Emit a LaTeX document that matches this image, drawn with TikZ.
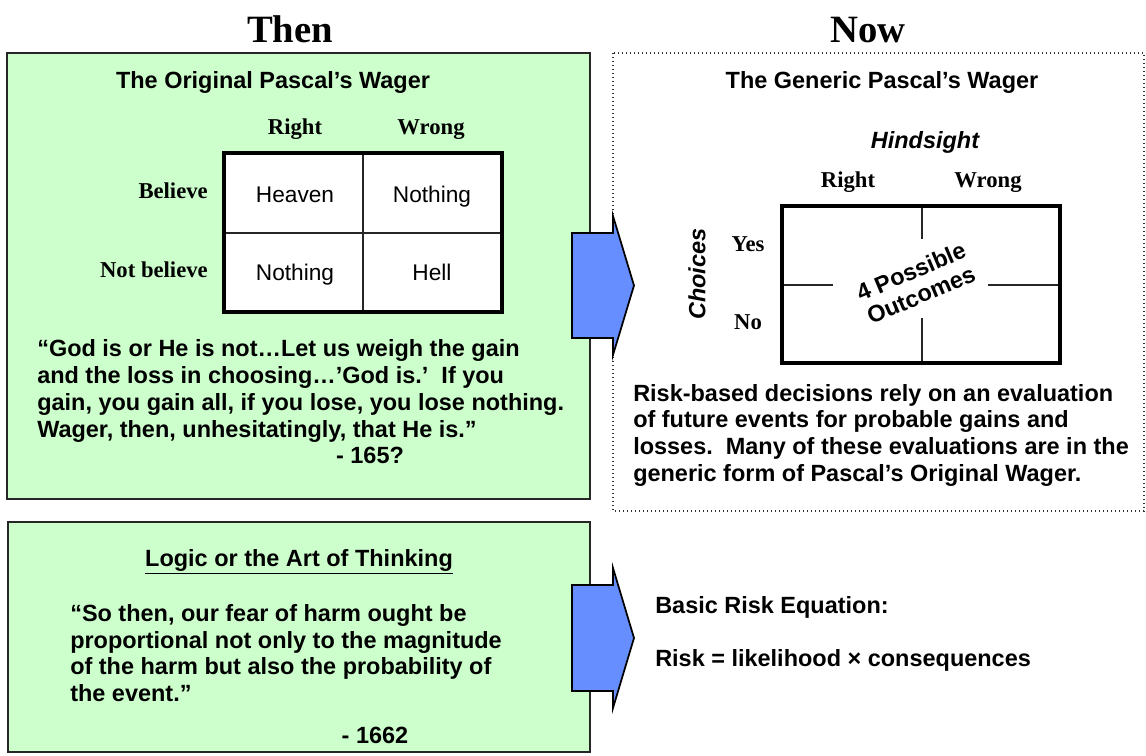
\documentclass[tikz,border=0pt]{standalone}
\usepackage{fontspec}
\setmainfont{Liberation Sans}
\newfontfamily\timesf{Liberation Serif}
\definecolor{pgreen}{RGB}{204,255,204}
\definecolor{pblue}{RGB}{102,142,255}
\begin{document}
\begin{tikzpicture}[x=0.75pt,y=-0.75pt,
  body/.style={font=\fontsize{17.6}{20}\selectfont\bfseries, inner sep=0, anchor=base west},
  ttl/.style={font=\fontsize{17.6}{20}\selectfont\bfseries, inner sep=0, anchor=base},
  serifl/.style={font=\timesf\fontsize{17}{20}\selectfont\bfseries, inner sep=0, anchor=base},
  cell/.style={font=\fontsize{17}{20}\selectfont, inner sep=0, anchor=base},
  bigttl/.style={font=\timesf\fontsize{29}{34}\selectfont\bfseries, inner sep=0, anchor=base},
  greenbox/.style={fill=pgreen, draw=black!85, line width=1pt},
  blockarrow/.style={fill=pblue, draw=black, line width=1.3pt, line join=miter},
  thickgrid/.style={draw=black, line width=3pt},
  thingrid/.style={draw=black!85, line width=1pt}]
\useasboundingbox (0,0) rectangle (1146,756);
\fill[white] (0,0) rectangle (1146,756);

% headings
\node[bigttl] (then) at (290,43) {Then};
\node[bigttl] (now) at (868,43) {Now};

% panels
\draw[greenbox] (7,53) rectangle (590,499);
\draw[greenbox] (8,522) rectangle (590,752);
\draw[black!80, line width=1pt, dotted] (613,53) rectangle (1144,511);

% arrows
\draw[blockarrow] (572,233) -- (613,233) -- (613,216) -- (634,285.5) -- (613,355) -- (613,338) -- (572,338) -- cycle;
\draw[blockarrow] (572,585) -- (613,585) -- (613,568) -- (634,638) -- (613,708) -- (613,691) -- (572,691) -- cycle;

% top-left panel
\node[ttl] (t1) at (273,89) {The Original Pascal’s Wager};
\node[serifl] (r1) at (295,135) {Right};
\node[serifl] (w1) at (431,135) {Wrong};
\node[serifl, anchor=base east] (bel) at (208,199) {Believe};
\node[serifl, anchor=base east] (nbel) at (208,277) {Not believe};
\fill[white] (224,153) rectangle (502,312);
\draw[thingrid] (363,153) -- (363,312);
\draw[thingrid] (224,233) -- (502,233);
\draw[thickgrid] (224,153) rectangle (502,312);
\node[cell] (c11) at (295,203) {Heaven};
\node[cell] (c12) at (432,203) {Nothing};
\node[cell] (c21) at (295,280) {Nothing};
\node[cell] (c22) at (432,280) {Hell};

\node[body] (q1) at (37,356) {“God is or He is not…Let us weigh the gain};
\node[body] (q2) at (37,383) {and the loss in choosing…’God is.’\ \ If you};
\node[body] (q3) at (37,410) {gain, you gain all, if you lose, you lose nothing.};
\node[body] (q4) at (37,437) {Wager, then, unhesitatingly, that He is.”};
\node[ttl] (q5) at (370,463) {- 165?};

% top-right panel
\node[ttl] (t2) at (882,89) {The Generic Pascal’s Wager};
\node[ttl, font=\fontsize{17.6}{20}\selectfont\bfseries\itshape] (hind) at (925,149) {Hindsight};
\node[serifl] (r2) at (848,188) {Right};
\node[serifl] (w2) at (988,188) {Wrong};
\node[serifl] (yes) at (748,251) {Yes};
\node[serifl] (no) at (748,329) {No};
\node[font=\fontsize{17.6}{20}\selectfont\bfseries\itshape, inner sep=0, rotate=90] (cho) at (697,274) {Choices};
\fill[white] (782,206) rectangle (1060,363);
\draw[thingrid] (922,206) -- (922,239);
\draw[thingrid] (922,318) -- (922,363);
\draw[thingrid] (782,285) -- (833,285);
\draw[thingrid] (988,285) -- (1060,285);
\draw[thickgrid] (782,206) rectangle (1060,363);
\node[font=\fontsize{17.6}{19}\selectfont\bfseries, align=center, rotate=23, inner sep=0] (out) at (916,283) {4 Possible\\Outcomes};

\node[body] (p1) at (633,401) {Risk-based decisions rely on an evaluation};
\node[body] (p2) at (633,427) {of future events for probable gains and};
\node[body] (p3) at (633,454) {losses.\ \ Many of these evaluations are in the};
\node[body] (p4) at (633,481) {generic form of Pascal’s Original Wager.};

% bottom-left panel
\node[ttl] (t3) at (299,566) {\underline{Logic or the Art of Thinking}};
\node[body] (b1) at (70,621) {“So then, our fear of harm ought be};
\node[body] (b2) at (70,648) {proportional not only to the magnitude};
\node[body] (b3) at (70,674) {of the harm but also the probability of};
\node[body] (b4) at (70,701) {the event.”};
\node[ttl] (b5) at (375,743) {- 1662};

% bottom-right
\node[body] (e1) at (655,613) {Basic Risk Equation:};
\node[body] (e2) at (655,666) {Risk = likelihood × consequences};
\end{tikzpicture}
\end{document}
